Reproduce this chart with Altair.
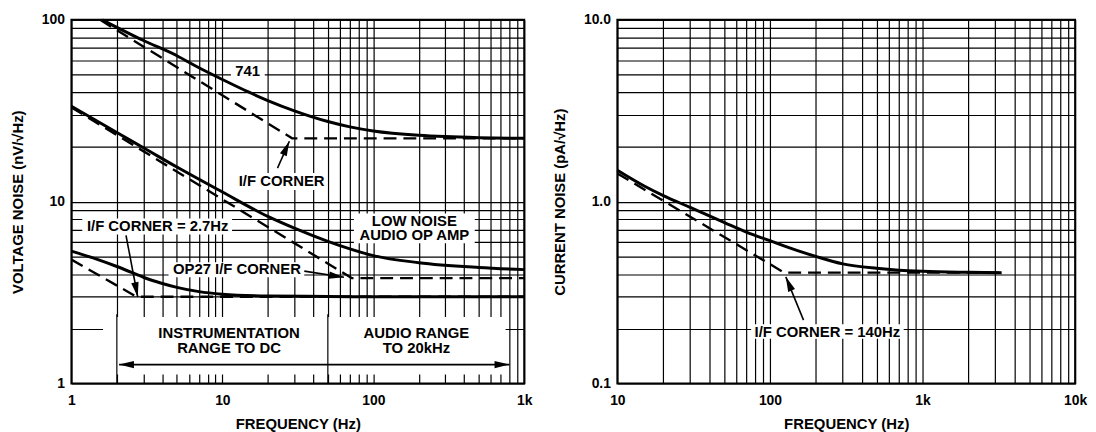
import altair as alt
import pandas as pd

# ---------------- Left panel: voltage noise (nV/sqrt(Hz)) ----------------
f_741 = [1.6, 2, 3, 5, 7, 10, 15, 20, 30, 50, 70, 100, 200, 300, 500, 1000]
v_741 = [100, 91, 77, 63.5, 54.5, 47, 40, 36, 31.6, 27.6, 25.8, 24.5, 23.2, 22.8, 22.5, 22.3]
f_741_asym = [1.55, 29, 1000]
v_741_asym = [100, 22.3, 22.3]

f_audio = [1, 2, 3, 5, 10, 20, 30, 50, 70, 100, 200, 500, 1000]
v_audio = [33.5, 24, 19.8, 15.5, 11.3, 8.3, 7.15, 6.05, 5.5, 5.05, 4.62, 4.35, 4.23]
f_audio_asym = [1, 72, 1000]
v_audio_asym = [33, 3.8, 3.8]

f_op27 = [1, 1.5, 2, 2.7, 3, 4, 5, 7, 10, 20, 50, 100, 1000]
v_op27 = [5.35, 4.8, 4.4, 3.98, 3.84, 3.55, 3.38, 3.2, 3.1, 3.03, 3.01, 3.0, 3.0]
f_op27_asym = [1, 2.7, 1000]
v_op27_asym = [4.8, 3.0, 3.0]

# ---------------- Right panel: current noise (pA/sqrt(Hz)) ----------------
f_cur = [10, 15, 20, 30, 50, 70, 100, 150, 200, 300, 500, 700, 1000, 2000, 3300]
v_cur = [1.49, 1.22, 1.08, 0.93, 0.77, 0.68, 0.61, 0.54, 0.50, 0.455, 0.43, 0.42, 0.414, 0.409, 0.407]
f_cur_asym = [10, 124, 3300]
v_cur_asym = [1.43, 0.407, 0.407]

# ---------------- Axis ticks / labels ----------------
LX_TICKS = [1, 2, 3, 4, 5, 6, 7, 8, 9, 10, 20, 30, 40, 50, 60, 70, 80, 90,
            100, 200, 300, 400, 500, 600, 700, 800, 900, 1000]
LY_TICKS = [1, 2, 3, 4, 5, 6, 7, 8, 9, 10, 20, 30, 40, 50, 60, 70, 80, 90, 100]
RX_TICKS = [10, 20, 30, 40, 50, 60, 70, 80, 90, 100, 200, 300, 400, 500, 600, 700, 800, 900,
            1000, 2000, 3000, 4000, 5000, 6000, 7000, 8000, 9000, 10000]
RY_TICKS = [0.1, 0.2, 0.3, 0.4, 0.5, 0.6, 0.7, 0.8, 0.9, 1, 2, 3, 4, 5, 6, 7, 8, 9, 10]

# ---------------- Annotations (data coordinates) ----------------
L_text = ["741", "I/F CORNER", "I/F CORNER = 2.7Hz", "LOW NOISE", "AUDIO OP AMP",
          "OP27 I/F CORNER", "INSTRUMENTATION", "RANGE TO DC", "AUDIO RANGE", "TO 20kHz"]
L_text_f = [14.7, 24.7, 3.73, 187, 187, 12.5, 11.07, 11.07, 193, 193]
L_text_v = [52.6, 13.0, 7.3, 7.78, 6.52, 4.25, 1.90, 1.57, 1.90, 1.57]

L_box_f1 = [11.4, 12.1, 1.18, 74.4, 4.4, 1.62]
L_box_f2 = [19.1, 49.4, 11.6, 470, 34.9, 752]
L_box_v1 = [47.6, 11.6, 6.6, 5.9, 3.84, 1.12]
L_box_v2 = [57.5, 14.4, 8.07, 8.6, 4.64, 2.32]

L_rule_f = [2, 50]
L_rule_v1 = [1, 1]
L_rule_v2 = [2.4, 2.4]

L_shaft_f1 = [23.2, 2.30, 34.9, 2.07]
L_shaft_f2 = [27.8, 2.75, 63.9, 798]
L_shaft_v1 = [15.3, 6.52, 4.15, 1.27]
L_shaft_v2 = [21.5, 2.99, 3.84, 1.27]

L_head_f = [27.8, 2.75, 63.9, 2.07, 798]
L_head_v = [21.5, 2.99, 3.84, 1.27, 1.27]
L_head_a = [24, 169, 98, 270, 90]

R_text = ["I/F CORNER = 140Hz"]
R_text_f = [238]
R_text_v = [0.192]
R_box_f1 = [75.3]
R_box_f2 = [753]
R_box_v1 = [0.176]
R_box_v2 = [0.212]
R_shaft_f1 = [166]
R_shaft_f2 = [127]
R_shaft_v1 = [0.223]
R_shaft_v2 = [0.386]
R_head_f = [127]
R_head_v = [0.386]
R_head_a = [337]

FONT = "Liberation Sans"
ARROW = "M0,0L0.5,2L-0.5,2Z"


def series_df(pairs):
    rows = []
    for name, fs, vs in pairs:
        for f, v in zip(fs, vs):
            rows.append({"s": name, "f": f, "v": v})
    return pd.DataFrame(rows)


def panel(xdom, ydom, xticks, yticks, xexpr, yexpr, ytitle, w, h,
          solids, dashes, boxes, rules, texts, shafts, heads):
    X = alt.X("f:Q", scale=alt.Scale(type="log", domain=xdom, nice=False),
              axis=alt.Axis(values=xticks, labelExpr=xexpr, title="FREQUENCY (Hz)",
                            labelPadding=10, titlePadding=9))
    Y = alt.Y("v:Q", scale=alt.Scale(type="log", domain=ydom, nice=False),
              axis=alt.Axis(values=yticks, labelExpr=yexpr, title=ytitle,
                            labelPadding=7, titlePadding=16))
    layers = [
        alt.Chart(boxes).mark_rect(color="white").encode(x=X, x2="f2:Q", y=Y, y2="v2:Q"),
    ]
    if rules is not None:
        layers.append(alt.Chart(rules).mark_rule(color="black", strokeWidth=1.2)
                      .encode(x=X, y=Y, y2="v2:Q"))
    layers += [
        alt.Chart(dashes).mark_line(color="black", strokeWidth=2.4, strokeDash=[13, 7])
        .encode(x=X, y=Y, detail="s:N"),
        alt.Chart(solids).mark_line(color="black", strokeWidth=3, interpolate="monotone")
        .encode(x=X, y=Y, detail="s:N"),
        alt.Chart(texts).mark_text(font=FONT, fontSize=15, fontWeight="bold", color="black",
                                   baseline="middle", align="center")
        .encode(x=X, y=Y, text="t:N"),
        alt.Chart(shafts).mark_rule(color="black", strokeWidth=1.6)
        .encode(x=X, x2="f2:Q", y=Y, y2="v2:Q"),
        alt.Chart(heads).mark_point(shape=ARROW, filled=True, color="black", size=225, opacity=1)
        .encode(x=X, y=Y, angle=alt.Angle("a:Q", scale=None)),
    ]
    return alt.layer(*layers).properties(width=w, height=h)


left = panel(
    [1, 1000], [1, 100], LX_TICKS, LY_TICKS,
    "datum.value==1000?'1k':(datum.value==1||datum.value==10||datum.value==100)?''+datum.value:''",
    "(datum.value==1||datum.value==10||datum.value==100)?''+datum.value:''",
    "VOLTAGE NOISE (nV/\u221aHz)", 457, 367,
    series_df([("741", f_741, v_741), ("audio", f_audio, v_audio), ("op27", f_op27, v_op27)]),
    series_df([("741", f_741_asym, v_741_asym), ("audio", f_audio_asym, v_audio_asym),
               ("op27", f_op27_asym, v_op27_asym)]),
    pd.DataFrame({"f": L_box_f1, "f2": L_box_f2, "v": L_box_v1, "v2": L_box_v2}),
    pd.DataFrame({"f": L_rule_f, "v": L_rule_v1, "v2": L_rule_v2}),
    pd.DataFrame({"t": L_text, "f": L_text_f, "v": L_text_v}),
    pd.DataFrame({"f": L_shaft_f1, "f2": L_shaft_f2, "v": L_shaft_v1, "v2": L_shaft_v2}),
    pd.DataFrame({"f": L_head_f, "v": L_head_v, "a": L_head_a}),
)

right = panel(
    [10, 10000], [0.1, 10], RX_TICKS, RY_TICKS,
    "datum.value==1000?'1k':datum.value==10000?'10k':(datum.value==10||datum.value==100)?''+datum.value:''",
    "(datum.value==0.1||datum.value==1||datum.value==10)?format(datum.value,'.1f'):''",
    "CURRENT NOISE (pA/\u221aHz)", 462, 367,
    series_df([("cur", f_cur, v_cur)]),
    series_df([("cur", f_cur_asym, v_cur_asym)]),
    pd.DataFrame({"f": R_box_f1, "f2": R_box_f2, "v": R_box_v1, "v2": R_box_v2}),
    None,
    pd.DataFrame({"t": R_text, "f": R_text_f, "v": R_text_v}),
    pd.DataFrame({"f": R_shaft_f1, "f2": R_shaft_f2, "v": R_shaft_v1, "v2": R_shaft_v2}),
    pd.DataFrame({"f": R_head_f, "v": R_head_v, "a": R_head_a}),
)

chart = (
    alt.hconcat(left, right, spacing=18)
    .properties(padding={"left": 1, "top": 2, "right": 0, "bottom": 0}, background="white")
    .configure_view(stroke="black", strokeWidth=2)
    .configure_axis(
        labelFont=FONT, labelFontSize=14, labelFontWeight="bold", labelColor="black",
        titleFont=FONT, titleFontSize=15, titleFontWeight="bold", titleColor="black",
        grid=True, gridColor="#000000", gridWidth=1.2, gridOpacity=1,
        ticks=False, domain=False, labelOverlap=False, labelFlush=False, labelBound=False,
    )
)

chart.save("out.html", embed_options={"renderer": "svg", "actions": False})
